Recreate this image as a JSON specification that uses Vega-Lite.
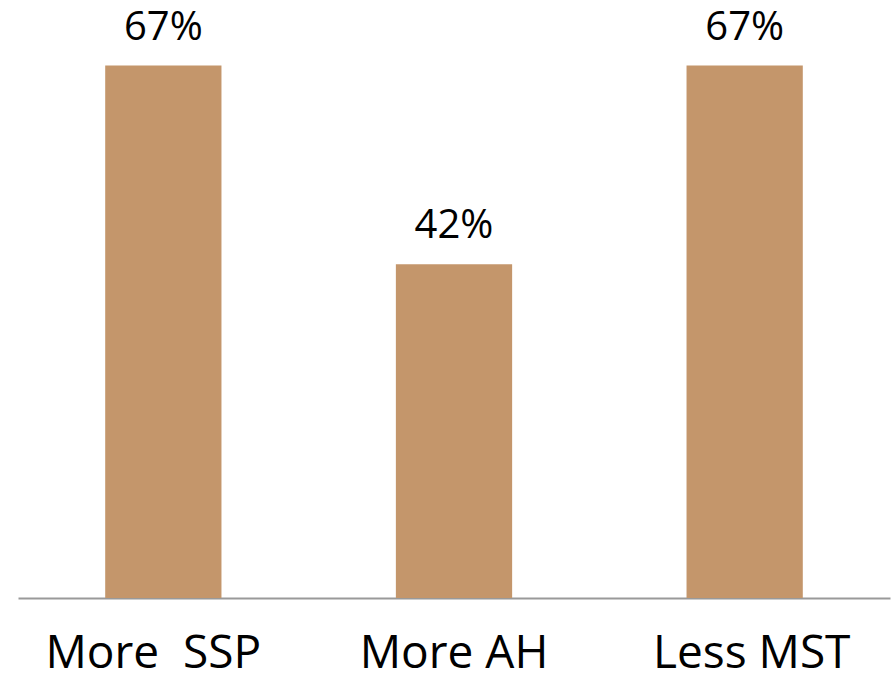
{
  "$schema": "https://vega.github.io/schema/vega-lite/v6.json",
  "width": 872,
  "height": 596,
  "autosize": "none",
  "padding": {"left": 18, "top": 2, "right": 5, "bottom": 78},
  "background": "white",
  "config": {"view": {"stroke": null}, "font": "Open Sans"},
  "data": {"values": [
    {"category": "More\u00a0 SSP", "value": 0.67},
    {"category": "More AH", "value": 0.42},
    {"category": "Less MST", "value": 0.67}
  ]},
  "encoding": {
    "x": {"field": "category", "type": "nominal", "sort": null,
      "scale": {"paddingInner": 0.6, "paddingOuter": 0.3},
      "axis": {"title": null, "labelAngle": 0, "ticks": false, "domainColor": "#999999", "domainWidth": 2,
        "labelFontSize": 46, "labelColor": "black", "labelFont": "Open Sans", "labelPadding": 33, "labelLimit": 0,
        "labelOffset": {"condition": [{"test": "datum.value === 'Less MST'", "value": 7}, {"test": "datum.value === 'More\u00a0 SSP'", "value": -10}], "value": 0}}},
    "y": {"field": "value", "type": "quantitative", "scale": {"domain": [0, 0.75]}, "axis": null}
  },
  "layer": [
    {"mark": {"type": "bar", "color": "#C4966B"}},
    {"mark": {"type": "text", "baseline": "alphabetic", "dy": -26, "fontSize": 40, "color": "black", "font": "Open Sans"},
      "encoding": {"text": {"field": "value", "type": "quantitative", "format": ".0%"}}}
  ]
}
